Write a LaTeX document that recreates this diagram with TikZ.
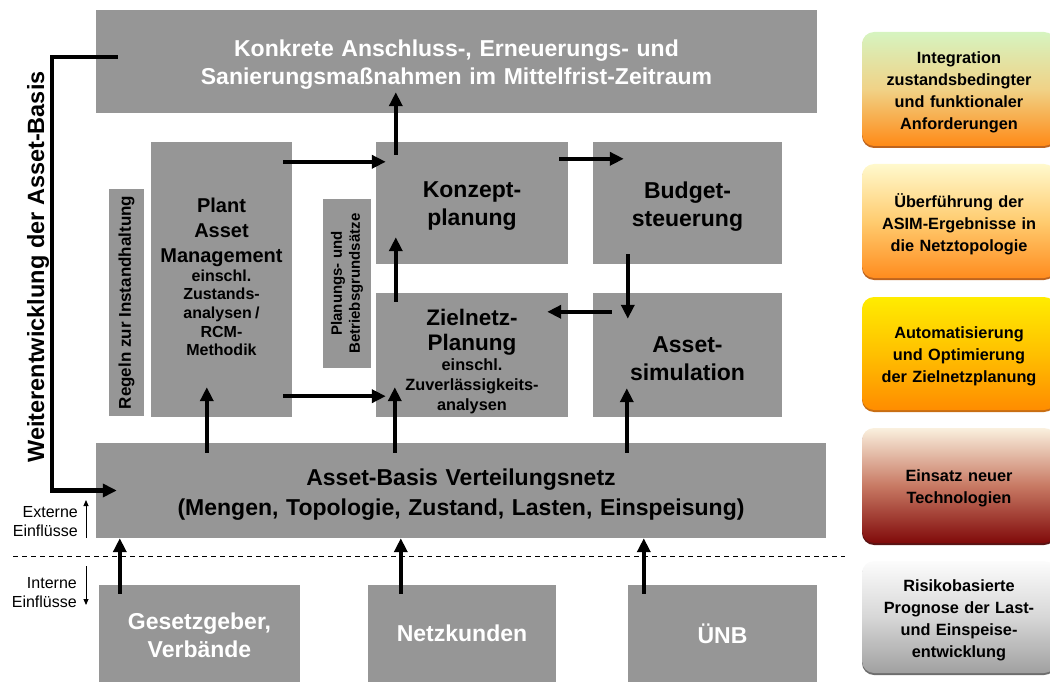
\documentclass[tikz,border=0pt]{standalone}
\usepackage{fontspec}
\setmainfont{Liberation Sans}
\usetikzlibrary{arrows.meta,calc,shadows}

\definecolor{boxgray}{RGB}{150,150,150}
% shadings of the side panels (top / middle / bottom / rim)
\definecolor{aT}{RGB}{214,244,192}\definecolor{aM}{RGB}{240,210,135}\definecolor{aB}{RGB}{255,138,22}\definecolor{aR}{RGB}{190,100,30}
\definecolor{bT}{RGB}{255,249,205}\definecolor{bM}{RGB}{255,204,112}\definecolor{bB}{RGB}{255,140,30}\definecolor{bR}{RGB}{190,100,30}
\definecolor{cT}{RGB}{255,236,0}\definecolor{cM}{RGB}{255,192,0}\definecolor{cB}{RGB}{255,140,0}\definecolor{cR}{RGB}{200,110,20}
\definecolor{dT}{RGB}{250,240,222}\definecolor{dM}{RGB}{200,122,100}\definecolor{dB}{RGB}{128,10,10}\definecolor{dR}{RGB}{90,20,20}
\definecolor{eT}{RGB}{252,252,252}\definecolor{eM}{RGB}{215,215,215}\definecolor{eB}{RGB}{160,160,160}\definecolor{eR}{RGB}{110,110,110}

\begin{document}
\begin{tikzpicture}[x=1pt,y=-1pt,
  gbox/.style={fill=boxgray, inner sep=0pt, align=center, font=\bfseries},
  bigtxt/.style={font=\fontsize{23}{28}\selectfont\bfseries},
  % lowers a text block inside its box by half the given amount
  sink/.style={execute at end node={\endgraf\vskip-#1\relax\kern0pt}},
  arr/.style={line width=4.5pt, -{Triangle[length=14pt,width=13pt]}},
  thinarr/.style={line width=0.9pt, -{Triangle[length=6pt,width=5pt]}},
  rbox/.style={rounded corners=12pt, minimum width=194pt, inner sep=0pt,
    text width=185pt, align=center, font=\fontsize{16.3}{22}\selectfont\bfseries, sink=6pt},
  rim/.style={drop shadow={fill=#1, opacity=1, shadow xshift=0pt, shadow yshift=-2pt}},
  side/.style={font=\fontsize{16}{19}\selectfont, align=right, inner sep=0pt}
]
\useasboundingbox (0,0) rectangle (1050,682);

% ---- main process boxes ----
\node[gbox, bigtxt, text=white, minimum width=721pt, minimum height=103pt, text width=700pt, sink=6pt]
  (top) at (456.5,61.5) {Konkrete Anschluss-, Erneuerungs- und\\Sanierungsma\ss nahmen im Mittelfrist-Zeitraum};

\node[gbox, rotate=90, minimum width=227pt, minimum height=35pt,
  font=\fontsize{17}{19}\selectfont\bfseries] (regeln) at (126.5,302.5) {Regeln zur Instandhaltung};

\node[gbox, minimum width=141pt, minimum height=275pt, text width=141pt, sink=-5pt]
  (plant) at (221.5,279.5) {{\fontsize{20}{25}\selectfont Plant\\Asset\\Management\par}
  {\fontsize{16}{18.7}\selectfont einschl.\\Zustands-\\analysen /\\RCM-\\Methodik\par}};

\node[gbox, rotate=90, minimum width=169pt, minimum height=48pt,
  font=\fontsize{15}{18}\selectfont\bfseries] (grund) at (347,283.5) {Planungs- und\\Betriebsgrunds\"atze};

\node[gbox, bigtxt, minimum width=192pt, minimum height=122pt, text width=190pt, sink=6pt]
  (konzept) at (472,203) {Konzept-\\planung};

\node[gbox, minimum width=192pt, minimum height=124pt, text width=190pt, sink=13pt]
  (ziel) at (472,355) {{\fontsize{22.5}{24.5}\selectfont Zielnetz-\\Planung\par}
  {\fontsize{16.3}{20}\selectfont einschl.\\Zuverl\"assigkeits-\\analysen\par}};

\node[gbox, bigtxt, minimum width=189pt, minimum height=122pt, text width=187pt, sink=7pt]
  (budget) at (687.5,203) {Budget-\\steuerung};

\node[gbox, bigtxt, minimum width=189pt, minimum height=124pt, text width=187pt, sink=8pt]
  (sim) at (687.5,355) {Asset-\\simulation};

\node[gbox, font=\fontsize{23}{30}\selectfont\bfseries, minimum width=730pt, minimum height=95pt, text width=720pt, sink=8pt]
  (basis) at (461,490.5) {Asset-Basis Verteilungsnetz\\(Mengen, Topologie, Zustand, Lasten, Einspeisung)};

\node[gbox, bigtxt, text=white, minimum width=201pt, minimum height=97pt, text width=195pt, sink=4pt]
  (gesetz) at (199.5,633.5) {Gesetzgeber,\\Verb\"ande};
\node[gbox, bigtxt, text=white, minimum width=188pt, minimum height=97pt, text width=185pt, sink=7pt]
  (kunden) at (462,633.5) {Netzkunden};
\node[gbox, bigtxt, text=white, minimum width=189pt, minimum height=97pt, text width=185pt, sink=6pt]
  (unb) at (722.5,633.5) {\"UNB};

% ---- flows between the boxes ----
\draw[arr] ($(plant.north east)+(-9,20)$) -- ($(konzept.north west)+(10,20)$);
\draw[arr] ($(plant.south east)+(-9,-21)$) -- ($(ziel.south west)+(10,-21)$);
\draw[arr] ($(konzept.north west)+(20,13)$) -- ($(konzept.north west |- top.south)+(20,-21)$);
\draw[arr] ($(ziel.north west)+(20,9)$) -- ($(konzept.south west)+(20,-27)$);
\draw[arr] ($(konzept.north east)+(-9,17)$) -- ($(budget.north west)+(31,17)$);
\draw[arr] ($(budget.south west)+(35,-10)$) -- ($(sim.north west)+(35,26)$);
\draw[arr] ($(sim.north west)+(19,19)$) -- ($(ziel.north east)+(-21,19)$);
\draw[arr] ($(plant.south west |- basis.north)+(56,10)$) -- ($(plant.south west)+(56,-30)$);
\draw[arr] ($(ziel.south west |- basis.north)+(19,10)$) -- ($(ziel.south west)+(19,-30)$);
\draw[arr] ($(sim.south west |- basis.north)+(34,10)$) -- ($(sim.south west)+(34,-29)$);
\draw[arr] ($(gesetz.north west)+(21,9)$) -- ($(gesetz.north west |- basis.south)+(21,0)$);
\draw[arr] ($(kunden.north west)+(33,9)$) -- ($(kunden.north west |- basis.south)+(33,0)$);
\draw[arr] ($(unb.north west)+(16,9)$) -- ($(unb.north west |- basis.south)+(16,0)$);

% ---- feedback loop on the left ----
\coordinate (loopx) at (52,0);
\coordinate (loopin) at ($(top.north west)+(22,47)$);
\coordinate (loopout) at ($(basis.west)+(21,0)$);
\draw[arr] (loopin) -| (loopx |- loopout) -- (loopout);
\node[rotate=90, font=\fontsize{23.5}{28}\selectfont\bfseries, inner sep=0pt]
  (weiter) at (38,267) {Weiterentwicklung der Asset-Basis};

% ---- external / internal influences ----
\coordinate (dl) at (13,556);
\coordinate (dr) at (845,556);
\draw[line width=0.9pt, dash pattern=on 5pt off 4pt] (dl) -- (dr);
\node[side, anchor=east] (ext) at (78,521.5) {Externe\\Einfl\"usse};
\node[side, anchor=east] (int) at (77,593) {Interne\\Einfl\"usse};
\coordinate (ea) at (86,538);
\coordinate (eb) at (86,500);
\coordinate (ia) at (86,566);
\coordinate (ib) at (86,605);
\draw[thinarr] (ea) -- (eb);
\draw[thinarr] (ia) -- (ib);

% ---- side panels ----
\node[rbox, rim=aR, top color=aT, bottom color=aB, middle color=aM, minimum height=114pt]
  (r1) at (959,89) {Integration\\zustandsbedingter\\und funktionaler\\Anforderungen};
\node[rbox, rim=bR, top color=bT, bottom color=bB, middle color=bM, minimum height=114pt]
  (r2) at (959,221) {\"Uberf\"uhrung der\\ASIM-Ergebnisse in\\die Netztopologie};
\node[rbox, rim=cR, top color=cT, bottom color=cB, middle color=cM, minimum height=113pt]
  (r3) at (959,353.5) {Automatisierung\\und Optimierung\\der Zielnetzplanung};
\node[rbox, rim=dR, top color=dT, bottom color=dB, middle color=dM, minimum height=115pt]
  (r4) at (959,485.5) {Einsatz neuer\\Technologien};
\node[rbox, rim=eR, top color=eT, bottom color=eB, middle color=eM, minimum height=112pt]
  (r5) at (959,617) {Risikobasierte\\Prognose der Last-\\und Einspeise-\\entwicklung};
\end{tikzpicture}
\end{document}
